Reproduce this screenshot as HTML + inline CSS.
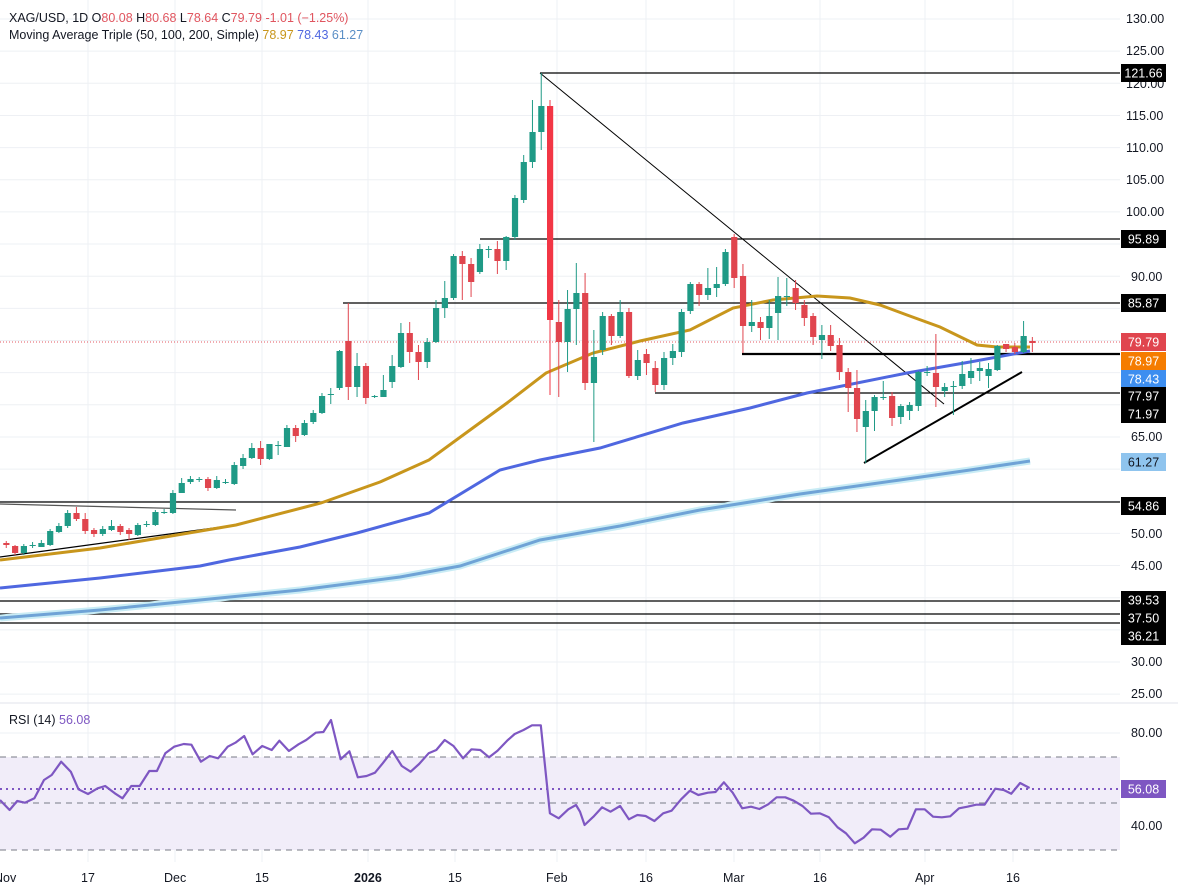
<!DOCTYPE html>
<html><head><meta charset="utf-8"><style>
html,body{margin:0;padding:0;background:#fff;}
svg{display:block;font-family:"Liberation Sans",sans-serif;}
</style></head><body>
<svg id="c" width="1178" height="893" viewBox="0 0 1178 893" xmlns="http://www.w3.org/2000/svg">
<rect width="1178" height="893" fill="#fff"/>
<g id="grid" stroke="#eef0f4" stroke-width="1"></g>
<rect x="0" y="757" width="1120" height="93" fill="#f1edf9"/>
<line x1="0" y1="757" x2="1120" y2="757" stroke="#787b86" stroke-dasharray="6,5"/>
<line x1="0" y1="803" x2="1120" y2="803" stroke="#787b86" stroke-dasharray="6,5"/>
<line x1="0" y1="850" x2="1120" y2="850" stroke="#787b86" stroke-dasharray="6,5"/>
<line x1="0" y1="789" x2="1120" y2="789" stroke="#7e57c2" stroke-width="2" stroke-dasharray="2,4"/>
<line x1="0" y1="703" x2="1178" y2="703" stroke="#e0e3eb"/>
<g stroke="#000" stroke-width="1.2">
<line x1="540" y1="73" x2="1120" y2="73"/>
<line x1="480" y1="239" x2="1120" y2="239"/>
<line x1="343" y1="303" x2="1120" y2="303"/>
<line x1="742" y1="354" x2="1120" y2="354" stroke-width="2.2"/>
<line x1="655" y1="393" x2="1120" y2="393"/>
<line x1="0" y1="502" x2="1120" y2="502"/>
<line x1="0" y1="601" x2="1120" y2="601"/>
<line x1="0" y1="614" x2="1120" y2="614"/>
<line x1="0" y1="623" x2="1120" y2="623"/>
<line x1="540" y1="73" x2="944" y2="404" stroke-width="1"/>
<line x1="864" y1="463" x2="1022" y2="372" stroke-width="2"/>
<line x1="0" y1="504" x2="236" y2="510" stroke="#555"/>
<line x1="0" y1="557" x2="236" y2="525"/>
</g>
<line x1="0" y1="342" x2="1120" y2="342" stroke="#e0555f" stroke-width="1" stroke-dasharray="1,2"/>
<path d="M0,618 L100,610 L200,600 L300,590 L400,577 L460,566 L500,553 L540,540 L620,526 L700,510 L800,494 L900,480 L970,470 L1030,461" fill="none" stroke="#c9ecf5" stroke-width="7"/>
<path d="M0,618 L100,610 L200,600 L300,590 L400,577 L460,566 L500,553 L540,540 L620,526 L700,510 L800,494 L900,480 L970,470 L1030,461" fill="none" stroke="#6fa3d6" stroke-width="3"/>
<path d="M0,588 L100,578 L200,566 L229,560 L300,547 L357,533 L429,513 L500,470 L540,460 L600,448 L683,423 L750,408 L807,393 L907,373 L970,362 L1030,351" fill="none" stroke="#4f67e0" stroke-width="3"/>
<path d="M0,560 L100,548 L236,525 L321,503 L380,482 L429,460 L470,430 L507,403 L546,373 L593,353 L640,341 L690,330 L733,308 L773,300 L817,296 L850,298 L880,305 L907,315 L940,327 L977,345 L997,347 L1030,347" fill="none" stroke="#c8961c" stroke-width="3"/>
<g id="candles"></g>
<path id="rsi" fill="none" stroke="#7e57c2" stroke-width="2.2" stroke-linejoin="round"/>
<text x="9" y="22" font-size="12.5" fill="#131722">XAG/USD, 1D  O<tspan fill="#e0555f">80.08</tspan>  H<tspan fill="#e0555f">80.68</tspan>  L<tspan fill="#e0555f">78.64</tspan>  C<tspan fill="#e0555f">79.79</tspan>  <tspan fill="#e0555f">-1.01 (−1.25%)</tspan></text>
<text x="9" y="39" font-size="12.5" fill="#131722">Moving Average Triple (50, 100, 200, Simple)  <tspan fill="#c8961c">78.97</tspan>  <tspan fill="#4f67e0">78.43</tspan>  <tspan fill="#5b8fc6">61.27</tspan></text>
<text x="9" y="724" font-size="12.5" fill="#131722">RSI (14)  <tspan fill="#7e57c2">56.08</tspan></text>
<g font-size="12.5" fill="#131722">
<text x="1126" y="23">130.00</text><text x="1126" y="55">125.00</text><text x="1126" y="88">120.00</text>
<text x="1126" y="120">115.00</text><text x="1126" y="152">110.00</text><text x="1126" y="184">105.00</text>
<text x="1126" y="216">100.00</text><text x="1131" y="281">90.00</text><text x="1131" y="441">65.00</text>
<text x="1131" y="538">50.00</text><text x="1131" y="570">45.00</text><text x="1131" y="666">30.00</text>
<text x="1131" y="698">25.00</text>
<text x="1131" y="737">80.00</text><text x="1131" y="830">40.00</text>
<text x="-6" y="882">Nov</text><text x="81" y="882">17</text><text x="164" y="882">Dec</text>
<text x="255" y="882">15</text><text x="354" y="882" font-weight="bold">2026</text><text x="448" y="882">15</text>
<text x="546" y="882">Feb</text><text x="639" y="882">16</text><text x="723" y="882">Mar</text>
<text x="813" y="882">16</text><text x="915" y="882">Apr</text><text x="1006" y="882">16</text>
</g>
<g id="labels" font-size="12.5"></g>
</svg>
<script>
var NS="http://www.w3.org/2000/svg";
function el(t,a,p){var e=document.createElementNS(NS,t);for(var k in a)e.setAttribute(k,a[k]);p.appendChild(e);return e;}
var grid=document.getElementById('grid');
for(var p=130;p>=25;p-=5){var y=19+(130-p)*6.43;el('line',{x1:0,y1:y,x2:1120,y2:y},grid);}
[733,780,826].forEach(function(y){el('line',{x1:0,y1:y,x2:1120,y2:y},grid);});
[88,175,262,368,455,557,646,734,820,925,1013].forEach(function(x){el('line',{x1:x,y1:0,x2:x,y2:862},grid);});
var D=[[543,545,541,548],[546,553,545,555],[553,546,544,555],[545,545,542,548],[547,543,540,547],[545,531,529,546],[532,526,523,533],[526,513,510,528],[513,519,507,521],[519,531,513,534],[530,534,528,537],[534,529,526,536],[530,526,520,531],[526,532,524,535],[530,534,528,540],[535,525,523,536],[524,524,521,527],[525,512,510,526],[512,512,509,514],[513,493,490,514],[493,483,478,493],[482,479,476,484],[479,479,477,482],[479,488,477,491],[488,480,476,489],[482,482,479,484],[484,465,462,485],[466,458,454,469],[458,448,443,459],[448,459,441,465],[459,444,444,460],[445,445,441,455],[447,428,425,447],[428,436,425,442],[435,423,420,436],[422,413,410,424],[413,396,393,414],[394,394,388,404],[388,351,350,390],[341,387,303,400],[387,366,353,397],[366,398,363,404],[396,396,395,398],[397,390,375,397],[382,366,355,388],[367,333,323,368],[333,352,322,363],[352,362,345,380],[362,342,338,368],[342,308,300,343],[308,298,281,318],[298,256,254,300],[256,264,251,300],[264,282,258,297],[272,249,244,274],[249,249,246,258],[249,261,241,274],[261,237,236,270],[237,198,195,240],[200,162,155,203],[162,132,100,168],[132,106,73,150],[106,320,100,395],[322,342,300,397],[342,309,290,372],[309,293,263,345],[293,383,273,390],[383,357,330,442],[350,316,312,355],[316,336,314,345],[336,312,300,338],[312,376,308,378],[376,360,350,380],[354,363,349,375],[368,385,361,392],[385,358,352,390],[358,351,344,365],[352,312,309,357],[311,284,282,314],[284,295,282,306],[295,288,268,300],[288,284,267,297],[284,252,249,286],[237,278,234,288],[276,326,264,353],[326,322,300,332],[322,328,317,340],[328,316,300,339],[313,296,277,340],[296,296,278,306],[288,303,280,310],[305,318,300,326],[316,337,313,345],[340,335,325,359],[335,346,325,351],[345,372,338,380],[372,388,368,412],[388,419,370,432],[427,411,400,463],[411,397,395,431],[397,397,381,400],[396,418,392,426],[417,406,404,424],[411,405,402,420],[406,372,371,411],[372,372,366,376],[373,387,334,407],[391,387,383,397],[386,386,381,415],[386,374,361,389],[378,371,358,384],[371,368,362,381],[376,369,363,388],[370,346,345,371],[344,349,344,352],[347,352,343,354],[352,336,321,353],[341,343,337,352]];
var cg=document.getElementById('candles');
D.forEach(function(d,i){var x=550+(i-62)*8.77;var up=d[1]<=d[0];var col=up?'#1f9a86':'#e0454e';
if(i==62)col='#f23645';
el('line',{x1:x,y1:d[2],x2:x,y2:d[3],stroke:col,'stroke-width':1},cg);
var t=Math.min(d[0],d[1]),h=Math.max(1,Math.abs(d[0]-d[1]));
el('rect',{x:x-3,y:t,width:6.2,height:h,fill:col},cg);});
var r1=[[0,300],[25,330],[45,303],[65,308],[90,295],[115,240],[135,225],[160,185],[185,215],[205,268],[230,282],[255,265],[275,258],[300,280],[320,295],[343,258],[365,258],[390,213],[410,213],[432,160],[455,140],[480,132],[500,134],[525,185],[548,168],[570,175],[595,140],[615,128],[638,108],[660,163],[685,138],[710,150],[730,122],[755,153],[780,133],[800,120],[825,98],[845,96],[865,60],[890,178],[913,154],[935,232],[958,228],[980,218],[1000,190],[1025,153],[1050,198],[1073,215],[1095,192],[1120,160],[1140,150],[1162,120],[1185,138],[1210,175],[1232,148],[1255,150],[1278,172],[1300,152],[1325,122],[1345,102],[1368,90],[1390,76],[1413,76],[1437,340],[1460,355],[1485,328],[1505,315]];
var r2=[[0,335],[12,375],[35,350],[58,322],[80,335],[105,318],[128,358],[150,345],[172,348],[195,363],[218,340],[240,332],[265,298],[288,272],[310,285],[335,278],[355,276],[377,247],[400,278],[425,325],[448,320],[470,327],[493,313],[515,292],[538,292],[560,302],[583,318],[605,341],[628,340],[652,352],[675,382],[697,400],[720,430],[743,413],[765,388],[788,389],[813,410],[835,388],[858,386],[880,328],[903,328],[925,350],[948,352],[970,349],[993,325],[1015,320],[1038,314],[1060,314],[1088,266],[1110,270],[1130,281],[1153,249],[1178,264]];
var pts=r1.map(function(p){return (p[0]/2.613).toFixed(1)+','+(p[1]/3+700).toFixed(1);}).concat(r2.map(function(p){return (p[0]/2.62+580).toFixed(1)+','+(p[1]/3+700).toFixed(1);}));
document.getElementById('rsi').setAttribute('d','M'+pts.join(' L'));
var lg=document.getElementById('labels');
[[73,'121.66','#000','#fff'],[239,'95.89','#000','#fff'],[303,'85.87','#000','#fff'],[342,'79.79','#e0454e','#fff'],[361,'78.97','#f57c00','#fff'],[379,'78.43','#3d8ef0','#fff'],[396,'77.97','#000','#fff'],[414,'71.97','#000','#fff'],[462,'61.27','#8fc4ee','#131722'],[506,'54.86','#000','#fff'],[600,'39.53','#000','#fff'],[618,'37.50','#000','#fff'],[636,'36.21','#000','#fff'],[789,'56.08','#7e57c2','#fff']].forEach(function(l){
el('rect',{x:1121,y:l[0]-9,width:45,height:18,fill:l[2]},lg);
var t=el('text',{x:1143.5,y:l[0]+4.5,'text-anchor':'middle',fill:l[3]},lg);t.textContent=l[1];});
</script>
</body></html>
